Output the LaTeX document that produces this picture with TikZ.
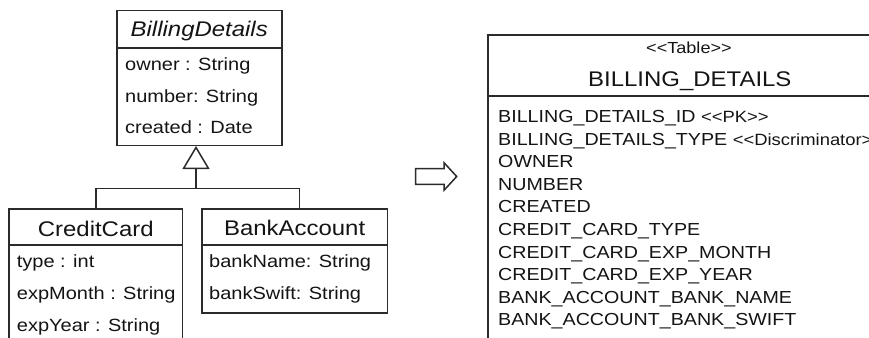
\documentclass[tikz,border=0pt]{standalone}
\usepackage{fontspec}
\setmainfont{Liberation Sans}[FakeStretch=1.13]
\usetikzlibrary{arrows.meta}
\definecolor{ink}{HTML}{2B2B2B}
\definecolor{txt}{HTML}{141414}
\newcommand\lguil{<\kern0pt<}
\newcommand\rguil{>\kern0pt>}
\begin{document}
\begin{tikzpicture}[x=1pt,y=-1pt,
  umlbox/.style={draw=ink, line width=1.5pt, inner sep=0pt, anchor=north west},
  tblbox/.style={draw=ink, line width=2pt, inner sep=0pt, anchor=north west},
  sep/.style={draw=ink, line width=1.5pt},
  tsep/.style={draw=ink, line width=2pt},
  ttl/.style={inner sep=0pt, anchor=base, text=txt, font=\fontsize{21.2}{24}\selectfont},
  attr/.style={inner sep=0pt, anchor=base west, text=txt, font=\fontsize{17.7}{20}\selectfont},
  col/.style={inner sep=0pt, anchor=base west, text=txt, font=\fontsize{17.4}{20}\selectfont},
  stereo/.style={inner sep=0pt, anchor=base west, text=txt, font=\fontsize{16}{18}\selectfont},
  tname/.style={inner sep=0pt, anchor=base west, text=txt, font=\fontsize{21.2}{24}\selectfont},
  conn/.style={draw=ink, line width=1.5pt},
  gen/.style={conn, -{Triangle[open, length=23pt, width=27pt]}}
]
\useasboundingbox (0,0) rectangle (869,337);
\clip (0,0) rectangle (869,337);

% BillingDetails
\node[umlbox, minimum width=165pt, minimum height=134.5pt] (bd) at (116,10) {};
\draw[sep] (bd.west |- 0,48) -- (bd.east |- 0,48);
\node[ttl] (bdt) at (bd.north |- 0,37) {\itshape BillingDetails};
\node[attr] (bd1) at (125,70.5) {owner : String};
\node[attr] (bd2) at (125,102) {number: String};
\node[attr] (bd3) at (125,133.5) {created : Date};

% CreditCard
\node[umlbox, minimum width=173.4pt, minimum height=200pt] (cc) at (8.3,208) {};
\draw[sep] (cc.west |- 0,245) -- (cc.east |- 0,245);
\node[ttl] (cct) at (cc.north |- 0,236) {CreditCard};
\node[attr] (cc1) at (16.7,267.3) {type : int};
\node[attr] (cc2) at (16.7,299.3) {expMonth : String};
\node[attr] (cc3) at (16.7,331) {expYear : String};

% BankAccount
\node[umlbox, minimum width=185.7pt, minimum height=104pt] (ba) at (201,208) {};
\draw[sep] (ba.west |- 0,245) -- (ba.east |- 0,245);
\node[ttl] (bat) at (ba.north |- 0,235.5) {BankAccount};
\node[attr] (ba1) at (209,267.3) {bankName: String};
\node[attr] (ba2) at (209,299.3) {bankSwift: String};

% generalization
\coordinate (j) at (196,188.3);
\draw[gen] (j) -- (bd.south -| j);
\draw[conn] (cc.north) |- (j) -| ([xshift=5pt]ba.north);

% transformation arrow
\draw[draw=ink, line width=1.5pt, line join=miter]
  (415.7,168.5) -- (444,168.5) -- (444,162.7) -- (456.7,176.5)
  -- (444,190.3) -- (444,184.3) -- (415.7,184.3) -- cycle;

% Table
\node[tblbox, minimum width=407pt, minimum height=400pt] (tbl) at (486.7,34) {};
\draw[tsep] (tbl.west |- 0,96) -- (tbl.east |- 0,96);
\node[stereo] (tst) at (646,54) {\lguil Table\rguil};
\node[tname] (tnm) at (588,86) {BILLING\_DETAILS};
\node[col] (r1) at (498,122.5) {BILLING\_DETAILS\_ID {\fontsize{16.3}{18}\selectfont\lguil PK\rguil}};
\node[col] (r2) at (498,145.1) {BILLING\_DETAILS\_TYPE {\fontsize{16.3}{18}\selectfont\lguil Discriminator\rguil}};
\node[col] (r3) at (498,167.7) {OWNER};
\node[col] (r4) at (498,190.2) {NUMBER};
\node[col] (r5) at (498,212.8) {CREATED};
\node[col] (r6) at (498,235.4) {CREDIT\_CARD\_TYPE};
\node[col] (r7) at (498,258.0) {CREDIT\_CARD\_EXP\_MONTH};
\node[col] (r8) at (498,280.6) {CREDIT\_CARD\_EXP\_YEAR};
\node[col] (r9) at (498,303.1) {BANK\_ACCOUNT\_BANK\_NAME};
\node[col] (r10) at (498,325.7) {BANK\_ACCOUNT\_BANK\_SWIFT};
\end{tikzpicture}
\end{document}
